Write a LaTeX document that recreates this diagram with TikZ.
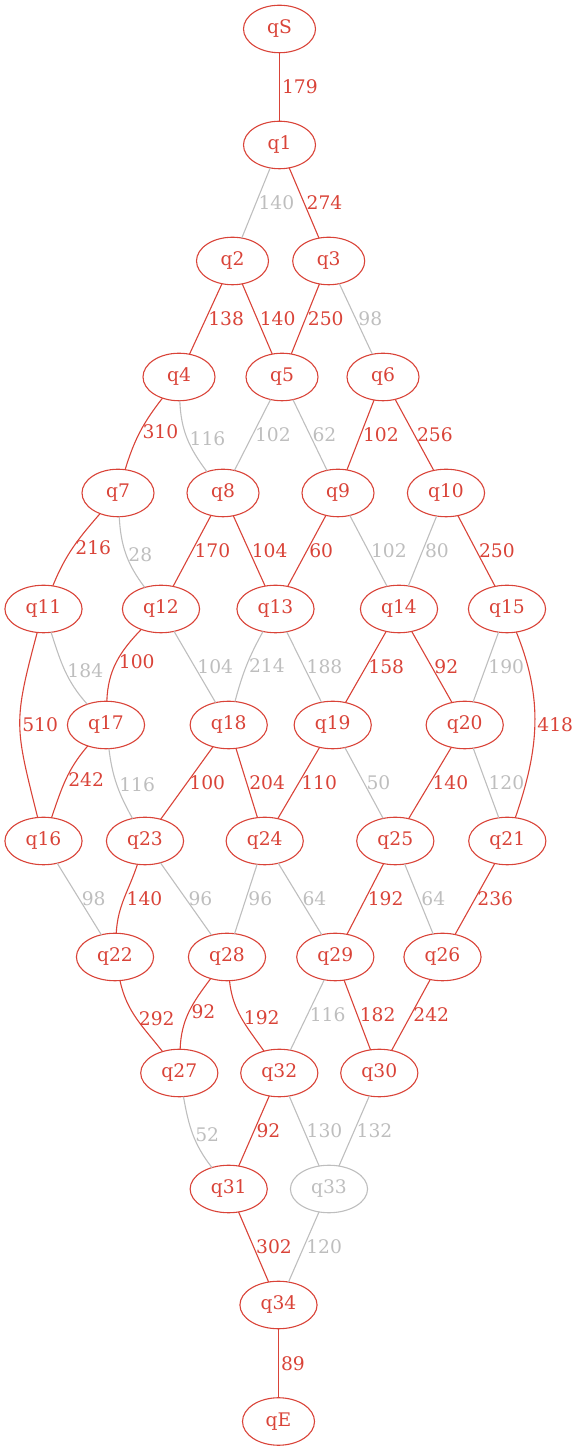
\documentclass[tikz,border=0pt]{standalone}
\usepackage{fontspec}
\setmainfont{DejaVu Serif}
\usepackage{tikz}
\usepackage{tkz-graph}
\usetikzlibrary{shapes.geometric}
\definecolor{pathred}{RGB}{217,67,56}
\definecolor{offgrey}{RGB}{190,190,190}

\begin{document}
\begin{tikzpicture}[x=1pt,y=1pt,
    redge/.style={pathred,line width=1.1pt},
    gedge/.style={offgrey,line width=1.1pt},
    cost/.style={anchor=west,inner sep=2pt,font=\fontsize{18.7}{22}\selectfont}]
    \useasboundingbox (0,0) rectangle (582,1451);
    \GraphInit[vstyle=Normal]
    \tikzset{VertexStyle/.style={ellipse,draw=pathred,text=pathred,line width=1.1pt,
        minimum width=72pt,minimum height=47.5pt,inner xsep=9.4pt,inner ysep=2pt,
        font=\fontsize{18.7}{22}\selectfont}}
    \Vertex[x=279.5,y=1422]{qS}
    \Vertex[x=279.5,y=1306]{q1}
    \Vertex[x=232.5,y=1190]{q2}
    \Vertex[x=328.7,y=1190]{q3}
    \Vertex[x=179,y=1074]{q4}
    \Vertex[x=282,y=1074]{q5}
    \Vertex[x=383,y=1074]{q6}
    \Vertex[x=118,y=958]{q7}
    \Vertex[x=223,y=958]{q8}
    \Vertex[x=338,y=958]{q9}
    \Vertex[x=446,y=958]{q10}
    \Vertex[x=43.5,y=842]{q11}
    \Vertex[x=161,y=842]{q12}
    \Vertex[x=275.5,y=842]{q13}
    \Vertex[x=399,y=842]{q14}
    \Vertex[x=507,y=842]{q15}
    \Vertex[x=106,y=726]{q17}
    \Vertex[x=228.7,y=726]{q18}
    \Vertex[x=332.7,y=726]{q19}
    \Vertex[x=464.7,y=726]{q20}
    \Vertex[x=43.5,y=610]{q16}
    \Vertex[x=145,y=610]{q23}
    \Vertex[x=264.7,y=610]{q24}
    \Vertex[x=395.3,y=610]{q25}
    \Vertex[x=507.3,y=610]{q21}
    \Vertex[x=115,y=494]{q22}
    \Vertex[x=227,y=494]{q28}
    \Vertex[x=335.3,y=494]{q29}
    \Vertex[x=442.5,y=494]{q26}
    \Vertex[x=179.3,y=378]{q27}
    \Vertex[x=279.3,y=378]{q32}
    \Vertex[x=379.3,y=378]{q30}
    \Vertex[x=228.7,y=262]{q31}
    \begin{scope}[VertexStyle/.append style={draw=offgrey,text=offgrey}]
    \Vertex[x=329,y=262]{q33}
    \end{scope}
    \Vertex[x=278.5,y=146]{q34}
    \Vertex[x=278.5,y=29.5]{qE}

    \draw[redge] (qS) -- node[cost]{179} (q1);
    \draw[gedge] (q1) -- node[cost]{140} (q2);
    \draw[redge] (q1) -- node[cost]{274} (q3);
    \draw[redge] (q2) -- node[cost]{138} (q4);
    \draw[redge] (q2) -- node[cost]{140} (q5);
    \draw[redge] (q3) -- node[cost]{250} (q5);
    \draw[gedge] (q3) -- node[cost]{98} (q6);
    \draw[redge] (q4) to[out=-128,in=73] node[cost]{310} (q7);
    \draw[gedge] (q4) to[out=-88,in=127] node[cost]{116} (q8);
    \draw[gedge] (q5) -- node[cost]{102} (q8);
    \draw[gedge] (q5) -- node[cost]{62} (q9);
    \draw[redge] (q6) -- node[cost]{102} (q9);
    \draw[redge] (q6) -- node[cost]{256} (q10);
    \draw[redge] (q7) to[out=-131,in=68] node[cost]{216} (q11);
    \draw[gedge] (q7) to[out=-87,in=127] node[cost]{28} (q12);
    \draw[redge] (q8) -- node[cost]{170} (q12);
    \draw[redge] (q8) -- node[cost]{104} (q13);
    \draw[redge] (q9) -- node[cost]{60} (q13);
    \draw[gedge] (q9) -- node[cost]{102} (q14);
    \draw[gedge] (q10) -- node[cost]{80} (q14);
    \draw[redge] (q10) -- node[cost]{250} (q15);
    \draw[gedge] (q11) to[out=-72,in=132] node[cost]{184} (q17);
    \draw[redge] (q11) to[out=-105,in=104,looseness=1.3] node[cost]{510} (q16);
    \draw[redge] (q12) to[out=-134,in=88] node[cost]{100} (q17);
    \draw[gedge] (q12) -- node[cost]{104} (q18);
    \draw[gedge] (q13) to[out=-119,in=75] node[cost]{214} (q18);
    \draw[gedge] (q13) -- node[cost]{188} (q19);
    \draw[redge] (q14) -- node[cost]{158} (q19);
    \draw[redge] (q14) -- node[cost]{92} (q20);
    \draw[gedge] (q15) -- node[cost]{190} (q20);
    \draw[redge] (q15) to[out=-68,in=71] node[cost]{418} (q21);
    \draw[redge] (q17) to[out=-131,in=71] node[cost]{242} (q16);
    \draw[gedge] (q17) to[out=-83,in=119] node[cost]{116} (q23);
    \draw[redge] (q18) -- node[cost]{100} (q23);
    \draw[redge] (q18) -- node[cost]{204} (q24);
    \draw[redge] (q19) -- node[cost]{110} (q24);
    \draw[gedge] (q19) -- node[cost]{50} (q25);
    \draw[redge] (q20) -- node[cost]{140} (q25);
    \draw[gedge] (q20) -- node[cost]{120} (q21);
    \draw[gedge] (q16) -- node[cost]{98} (q22);
    \draw[redge] (q23) to[out=-108,in=87] node[cost]{140} (q22);
    \draw[gedge] (q23) -- node[cost]{96} (q28);
    \draw[gedge] (q24) -- node[cost]{96} (q28);
    \draw[gedge] (q24) -- node[cost]{64} (q29);
    \draw[redge] (q25) -- node[cost]{192} (q29);
    \draw[gedge] (q25) -- node[cost]{64} (q26);
    \draw[redge] (q21) -- node[cost]{236} (q26);
    \draw[redge] (q22) to[out=-78,in=128] node[cost]{292} (q27);
    \draw[redge] (q28) to[out=-127,in=88] node[cost]{92} (q27);
    \draw[redge] (q28) to[out=-84,in=125] node[cost]{192} (q32);
    \draw[gedge] (q29) -- node[cost]{116} (q32);
    \draw[redge] (q29) -- node[cost]{182} (q30);
    \draw[redge] (q26) -- node[cost]{242} (q30);
    \draw[gedge] (q27) to[out=-80,in=128] node[cost]{52} (q31);
    \draw[redge] (q32) -- node[cost]{92} (q31);
    \draw[gedge] (q32) -- node[cost]{130} (q33);
    \draw[gedge] (q30) -- node[cost]{132} (q33);
    \draw[redge] (q31) -- node[cost]{302} (q34);
    \draw[gedge] (q33) -- node[cost]{120} (q34);
    \draw[redge] (q34) -- node[cost]{89} (qE);
\end{tikzpicture}
\end{document}
